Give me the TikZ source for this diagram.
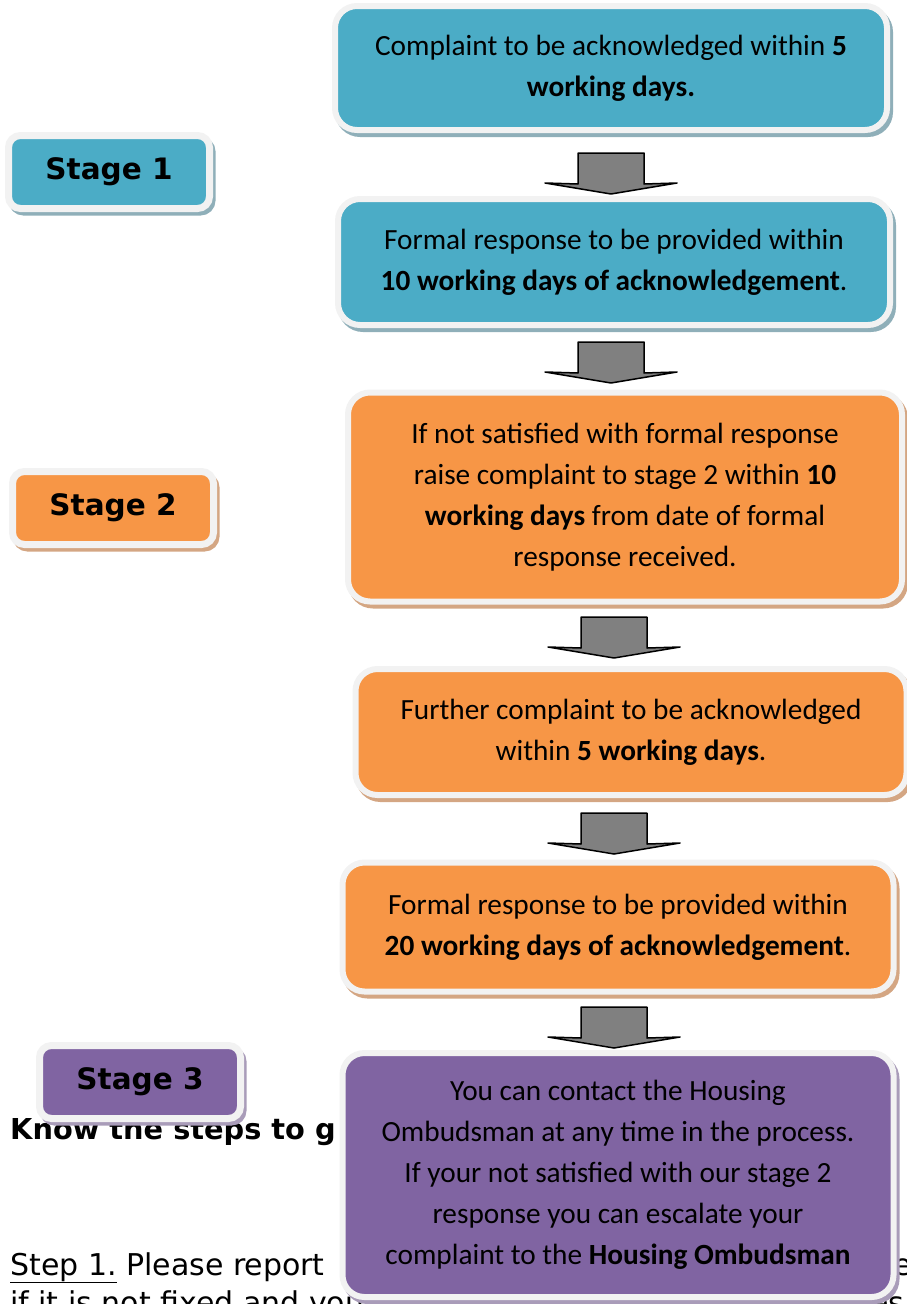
\documentclass[tikz,border=0pt]{standalone}
\usepackage{fontspec}
\setmainfont{Carlito}
\newfontfamily\verdana{DejaVu Sans}
\usetikzlibrary{shadows}
\definecolor{tealfill}{HTML}{4BACC6}
\definecolor{tealshade}{HTML}{8FAFB9}
\definecolor{orangefill}{HTML}{F79646}
\definecolor{orangeshade}{HTML}{D4A683}
\definecolor{purplefill}{HTML}{8064A2}
\definecolor{purpleshade}{HTML}{A99CB9}
\definecolor{rimgray}{HTML}{F2F2F2}
\definecolor{arrowgray}{HTML}{808080}
\newcommand{\flowarrow}[2]{%
  \draw[arrowshape] (#1-33,#2) -- (#1+33,#2) -- (#1+33,#2+31) -- (#1+66,#2+30)
    -- (#1,#2+41) -- (#1-66,#2+30) -- (#1-33,#2+31) -- cycle;}
\begin{document}
\begin{tikzpicture}[x=1pt,y=-1pt,
    box/.style={draw=rimgray, line width=6pt, rounded corners=22pt, align=center,
      inner sep=0pt, font=\fontsize{29.3}{41}\selectfont},
    stagebox/.style={draw=rimgray, line width=7pt, rounded corners=12pt,
      minimum width=201pt, minimum height=73pt, inner sep=0pt,
      font=\verdana\bfseries\fontsize{29.5}{32}\selectfont},
    tealshadow/.style={drop shadow={shadow xshift=3pt, shadow yshift=-4pt,
      draw=tealshade, fill=tealshade, line width=6pt, opacity=1}},
    orangeshadow/.style={drop shadow={shadow xshift=3pt, shadow yshift=-4pt,
      draw=orangeshade, fill=orangeshade, line width=6pt, opacity=1}},
    purpleshadow/.style={drop shadow={shadow xshift=3pt, shadow yshift=-4pt,
      draw=purpleshade, fill=purpleshade, line width=6pt, opacity=1}},
    bodytext/.style={inner sep=0pt, anchor=base west, font=\verdana\fontsize{30}{33}\selectfont},
    arrowshape/.style={draw=black, line width=1.5pt, fill=arrowgray, line join=round}]
  \useasboundingbox (0,0) rectangle (906,1304);
  % text of the page behind the chart
  \node[bodytext, font=\verdana\bfseries\fontsize{28.8}{32}\selectfont] (know) at (10,1139) {Know the steps to g};
  \node[bodytext] (step) at (10,1275) {\underline{Step 1.} Please report};
  \node[bodytext] (stepend) at (893,1275) {e};
  \node[bodytext] (next) at (10,1313) {if it is not fixed and you};
  \node[bodytext] (nextend) at (870,1313) {es};
  % stage labels
  \node[stagebox, fill=tealfill, tealshadow] (s1) at (109,172) {Stage 1};
  \node[stagebox, fill=orangefill, orangeshadow] (s2) at (113,508) {Stage 2};
  \node[stagebox, fill=purplefill, purpleshadow] (s3) at (140,1082) {Stage 3};
  % steps
  \node[box, fill=tealfill, tealshadow, minimum width=552pt, minimum height=124pt] (b1) at (611,68)
    {Complaint to be acknowledged within \textbf{5}\\\textbf{working days.}};
  \node[box, fill=tealfill, tealshadow, minimum width=552pt, minimum height=126pt] (b2) at (614,262)
    {Formal response to be provided within\\\textbf{10 working days of acknowledgement}.};
  \node[box, fill=orangefill, orangeshadow, minimum width=554pt, minimum height=209pt] (b3) at (625,497)
    {If not satisfied with formal response\\raise complaint to stage 2 within \textbf{10}\\
     \textbf{working days} from date of formal\\response received.};
  \node[box, fill=orangefill, orangeshadow, minimum width=551pt, minimum height=126pt] (b4) at (631,732)
    {Further complaint to be acknowledged\\within \textbf{5 working days}.};
  \node[box, fill=orangefill, orangeshadow, minimum width=551pt, minimum height=129pt] (b5) at (618,927)
    {Formal response to be provided within\\\textbf{20 working days of acknowledgement}.};
  \node[box, fill=purplefill, purpleshadow, minimum width=551pt, minimum height=244pt] (b6) at (618,1175)
    {You can contact the Housing\\Ombudsman at any time in the process.\\If your not satisfied with our stage 2\\
     response you can escalate your\\complaint to the \textbf{Housing Ombudsman}};
  % arrows between steps
  \flowarrow{611}{153}
  \flowarrow{611}{342}
  \flowarrow{614}{617}
  \flowarrow{614}{813}
  \flowarrow{614}{1007}
\end{tikzpicture}
\end{document}
